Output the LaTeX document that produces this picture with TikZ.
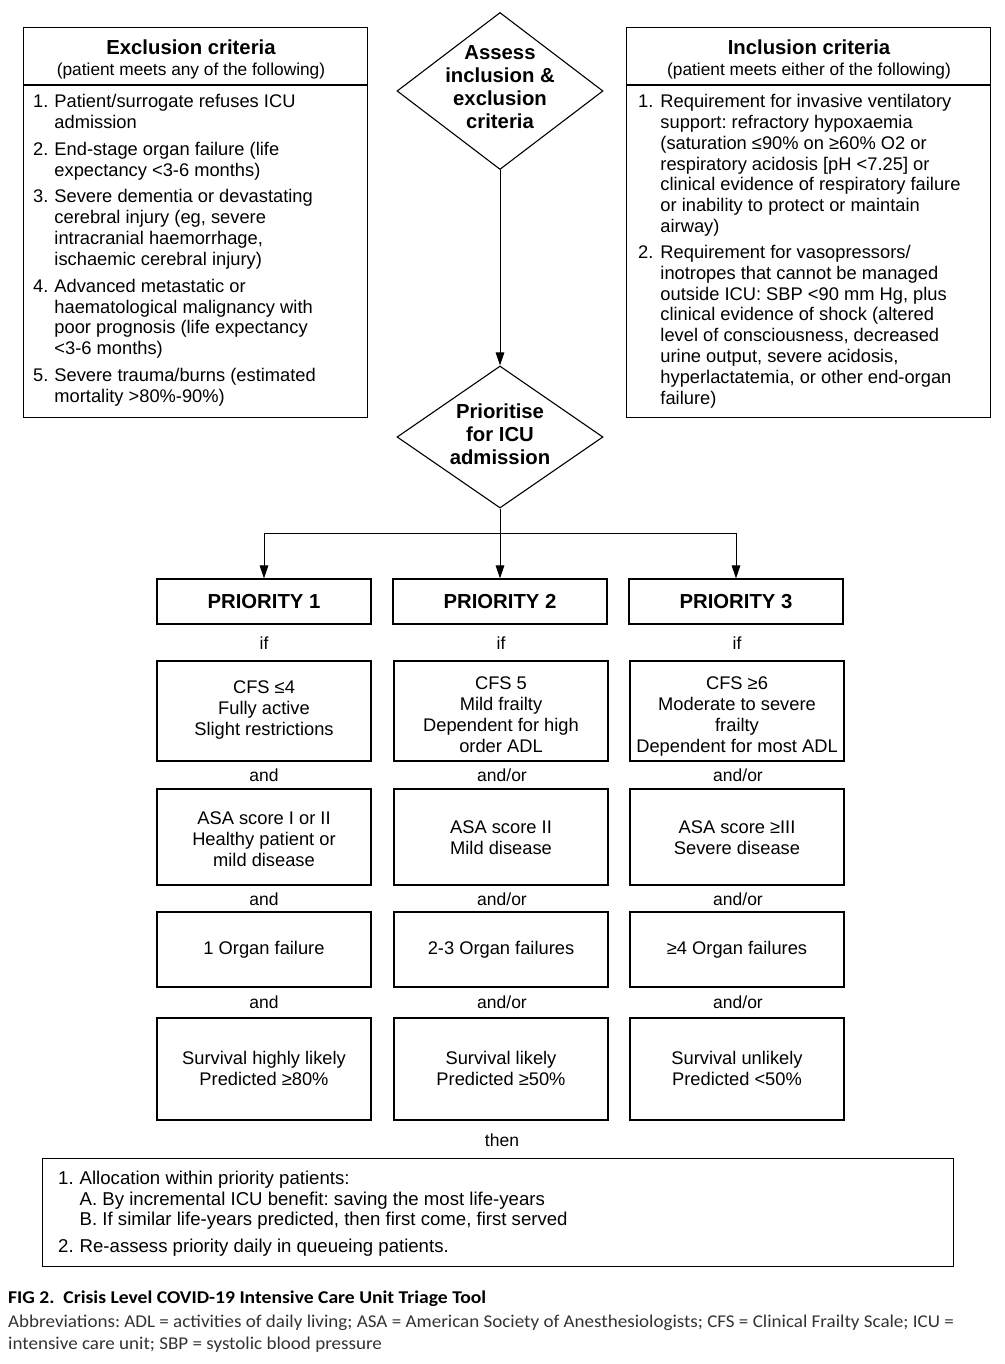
\documentclass[tikz,border=0pt]{standalone}
\usepackage{fontspec}
\setmainfont{Liberation Sans}
\newfontfamily\captitlefont[FakeStretch=1.09]{Carlito}
\newfontfamily\captextfont[FakeStretch=1.058]{Carlito}
\usetikzlibrary{shapes.geometric,arrows.meta}
\newcommand\bodyfnt{\fontsize{18.3}{20.85}\selectfont}
\newcommand\headfnt{\fontsize{20.3}{23}\selectfont\bfseries}
\newcommand\subfnt{\fontsize{17.3}{20}\selectfont}
\begin{document}
\frenchspacing
\begin{tikzpicture}[x=1pt,y=-1pt,
  frame/.style={draw, line width=1.1pt, inner sep=0pt},
  pbox/.style={frame, minimum width=214pt, minimum height=45pt, font=\headfnt},
  cbox/.style={frame, minimum width=214pt},
  ctext/.style={anchor=north, inner sep=0pt, align=center, font=\bodyfnt},
  dia/.style={diamond, draw, line width=1.1pt, inner sep=0pt, minimum width=206pt},
  dtext/.style={align=center, font=\headfnt},
  conn/.style={line width=1pt},
  arr/.style={conn, -{Triangle[length=13pt,width=8.5pt]}},
  lbl/.style={anchor=base, inner sep=0pt, font=\fontsize{17.5}{20}\selectfont},
  list/.style={anchor=base west, inner sep=0pt, font=\bodyfnt},
]
\useasboundingbox (0,0) rectangle (1004,1364);

% Exclusion criteria box
\node[frame, anchor=north west, minimum width=344pt, minimum height=390pt] (exc) at (23,27) {};
\draw[line width=1.1pt] ([yshift=-58pt]exc.north west) -- ([yshift=-58pt]exc.north east);
\node[anchor=base, inner sep=0pt, font=\headfnt] (exch) at (191,55) {Exclusion criteria};
\node[anchor=base, inner sep=0pt, font=\subfnt] (excs) at (191,76) {(patient meets any of the following)};
\node[list] (excl) at (33,107.5) {\bodyfnt\begin{tabular}[t]{@{}l@{\hspace{6pt}}l@{}}
1. & Patient/surrogate refuses ICU\\
   & admission\\[6pt]
2. & End-stage organ failure (life\\
   & expectancy <3-6 months)\\[6pt]
3. & Severe dementia or devastating\\
   & cerebral injury (eg, severe\\
   & intracranial haemorrhage,\\
   & ischaemic cerebral injury)\\[6pt]
4. & Advanced metastatic or\\
   & haematological malignancy with\\
   & poor prognosis (life expectancy\\
   & <3-6 months)\\[6pt]
5. & Severe trauma/burns (estimated\\
   & mortality >80\%-90\%)
\end{tabular}};

% Inclusion criteria box
\node[frame, anchor=north west, minimum width=364pt, minimum height=390pt] (inc) at (626,27) {};
\draw[line width=1.1pt] ([yshift=-58pt]inc.north west) -- ([yshift=-58pt]inc.north east);
\node[anchor=base, inner sep=0pt, font=\headfnt] (inch) at (809,55) {Inclusion criteria};
\node[anchor=base, inner sep=0pt, font=\subfnt] (incs) at (809,76) {(patient meets either of the following)};
\node[list] (incl) at (638,107.5) {\bodyfnt\begin{tabular}[t]{@{}l@{\hspace{7pt}}l@{}}
1. & Requirement for invasive ventilatory\\
   & support: refractory hypoxaemia\\
   & (saturation ≤90\% on ≥60\% O2 or\\
   & respiratory acidosis [pH <7.25] or\\
   & clinical evidence of respiratory failure\\
   & or inability to protect or maintain\\
   & airway)\\[5pt]
2. & Requirement for vasopressors/\\
   & inotropes that cannot be managed\\
   & outside ICU: SBP <90 mm Hg, plus\\
   & clinical evidence of shock (altered\\
   & level of consciousness, decreased\\
   & urine output, severe acidosis,\\
   & hyperlactatemia, or other end-organ\\
   & failure)
\end{tabular}};

% Diamonds
\node[dia, minimum height=157pt] (d1) at (500,91) {};
\node[dtext] (d1t) at (500,87.5) {Assess\\inclusion \&\\exclusion\\criteria};
\node[dia, minimum height=142pt] (d2) at (500,437) {};
\node[dtext] (d2t) at (500,434.5) {Prioritise\\for ICU\\admission};
\draw[arr] (d1.south) -- (d2.north);

% Priority boxes
\node[pbox] (p1) at (264,601.5) {PRIORITY 1};
\node[pbox] (p2) at (500,601.5) {PRIORITY 2};
\node[pbox] (p3) at (736,601.5) {PRIORITY 3};
\coordinate (br) at (500,533);
\draw[conn] (d2.south) -- (br);
\draw[conn] (p1.north |- br) -- (p3.north |- br);
\draw[arr] (p1.north |- br) -- (p1.north);
\draw[arr] (br) -- (p2.north);
\draw[arr] (p3.north |- br) -- (p3.north);

% if labels
\node[lbl] (if1) at (264,649) {if};
\node[lbl] (if2) at (501,649) {if};
\node[lbl] (if3) at (737,649) {if};

% CFS row
\node[cbox, minimum height=100pt] (c1) at (264,711) {};
\node[cbox, minimum height=100pt] (c2) at (501,711) {};
\node[cbox, minimum height=100pt] (c3) at (737,711) {};
\node[ctext] (c1t) at (264,680.5) {CFS ≤4\\Fully active\\Slight restrictions};
\node[ctext] (c2t) at (501,676.5) {CFS 5\\Mild frailty\\Dependent for high\\order ADL};
\node[ctext] (c3t) at (737,676.5) {CFS ≥6\\Moderate to severe\\frailty\\Dependent for most ADL};
\node[lbl] (l11) at (264,781) {and};
\node[lbl] (l12) at (502,781) {and/or};
\node[lbl] (l13) at (738,781) {and/or};

% ASA row
\node[cbox, minimum height=96pt] (a1) at (264,837) {};
\node[cbox, minimum height=96pt] (a2) at (501,837) {};
\node[cbox, minimum height=96pt] (a3) at (737,837) {};
\node[ctext] (a1t) at (264,811.5) {ASA score I or II\\Healthy patient or\\mild disease};
\node[ctext] (a2t) at (501,820.5) {ASA score II\\Mild disease};
\node[ctext] (a3t) at (737,820.5) {ASA score ≥III\\Severe disease};
\node[lbl] (l21) at (264,905) {and};
\node[lbl] (l22) at (502,905) {and/or};
\node[lbl] (l23) at (738,905) {and/or};

% Organ row
\node[cbox, minimum height=75pt] (o1) at (264,949.5) {};
\node[cbox, minimum height=75pt] (o2) at (501,949.5) {};
\node[cbox, minimum height=75pt] (o3) at (737,949.5) {};
\node[ctext] (o1t) at (264,941.5) {1 Organ failure};
\node[ctext] (o2t) at (501,941.5) {2-3 Organ failures};
\node[ctext] (o3t) at (737,941.5) {≥4 Organ failures};
\node[lbl] (l31) at (264,1008) {and};
\node[lbl] (l32) at (502,1008) {and/or};
\node[lbl] (l33) at (738,1008) {and/or};

% Survival row
\node[cbox, minimum height=102pt] (s1) at (264,1069) {};
\node[cbox, minimum height=102pt] (s2) at (501,1069) {};
\node[cbox, minimum height=102pt] (s3) at (737,1069) {};
\node[ctext] (s1t) at (264,1051.5) {Survival highly likely\\Predicted ≥80\%};
\node[ctext] (s2t) at (501,1051.5) {Survival likely\\Predicted ≥50\%};
\node[ctext] (s3t) at (737,1051.5) {Survival unlikely\\Predicted <50\%};
\node[lbl] (then) at (502,1146) {then};

% Bottom box
\node[frame, anchor=north west, minimum width=911pt, minimum height=108pt] (fin) at (42,1158) {};
\node[list] (finl) at (58,1184.5) {\fontsize{18.6}{20.7}\selectfont\begin{tabular}[t]{@{}l@{\hspace{6pt}}l@{}}
1. & Allocation within priority patients:\\
   & A. By incremental ICU benefit: saving the most life-years\\
   & B. If similar life-years predicted, then first come, first served\\[6pt]
2. & Re-assess priority daily in queueing patients.
\end{tabular}};

% Caption
\node[anchor=base west, inner sep=0pt, font=\captitlefont\fontsize{18}{21}\selectfont\bfseries] (capt) at (8,1303) {FIG 2.\ \ Crisis Level COVID-19 Intensive Care Unit Triage Tool};
\node[anchor=base west, inner sep=0pt, text=black!80, font=\captextfont\fontsize{18}{22}\selectfont] (cap1) at (8,1327) {Abbreviations: ADL = activities of daily living; ASA = American Society of Anesthesiologists; CFS = Clinical Frailty Scale; ICU =};
\node[anchor=base west, inner sep=0pt, text=black!80, font=\captextfont\fontsize{18}{22}\selectfont] (cap2) at (8,1349) {intensive care unit; SBP = systolic blood pressure};
\end{tikzpicture}
\end{document}
